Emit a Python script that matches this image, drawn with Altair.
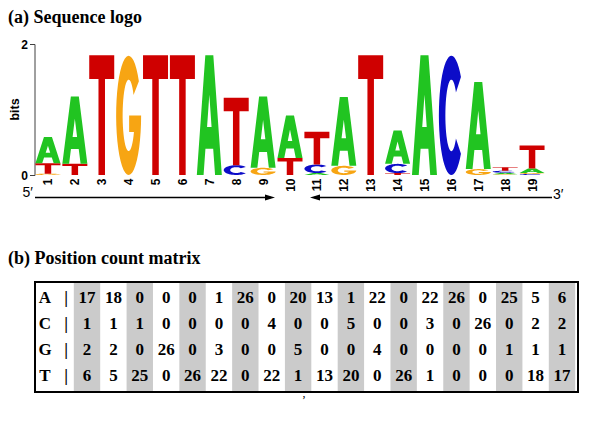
import math
import altair as alt
import pandas as pd

# ---------------- data ----------------
positions = list(range(1, 20))
letters = ["A", "C", "G", "T"]
letter_colors = ["#21c421", "#0c0cc8", "#f7a513", "#cf0000"]

# information content (bits) of each letter
A_bits = [0.40, 1.03, 0, 0, 0, 0, 1.83, 0, 1.09, 0.65, 0.03, 1.05, 0, 0.51, 1.83, 0, 1.33, 0.025, 0.07]
C_bits = [0.0, 0.0, 0, 0, 0, 0, 0, 0.15, 0, 0, 0.13, 0, 0, 0.14, 0, 1.82, 0, 0.03, 0.015]
G_bits = [0.02, 0, 0, 1.82, 0, 0, 0, 0, 0.11, 0, 0, 0.14, 0, 0, 0, 0, 0.09, 0.01, 0.015]
T_bits = [0.16, 0.17, 1.83, 0, 1.83, 1.83, 0, 1.03, 0, 0.26, 0.50, 0, 1.83, 0.03, 0, 0, 0, 0.055, 0.35]

# position count matrix
A_counts = [17, 18, 0, 0, 0, 1, 26, 0, 20, 13, 1, 22, 0, 22, 26, 0, 25, 5, 6]
C_counts = [1, 1, 1, 0, 0, 0, 0, 4, 0, 0, 5, 0, 0, 3, 0, 26, 0, 2, 2]
G_counts = [2, 2, 0, 26, 0, 3, 0, 0, 5, 0, 0, 4, 0, 0, 0, 0, 1, 1, 1]
T_counts = [6, 5, 25, 0, 26, 22, 0, 22, 1, 13, 20, 0, 26, 1, 0, 0, 0, 18, 17]

title_a = "(a) Sequence logo"
title_b = "(b) Position count matrix"
y_title = "bits"
five_prime = "5\u2032"
three_prime = "3\u2032"
bar_sep = "|"
stray_mark = ","

# ---------------- geometry helpers ----------------
PLOT_W, PLOT_H = 511, 131
PX_PER_BIT = PLOT_H / 2.0
LETTER_W = 25.0


def arc(cx, cy, rx, ry, t0, t1, n=40):
    pts = []
    for i in range(n + 1):
        t = math.radians(t0 + (t1 - t0) * i / n)
        pts.append((cx + rx * math.cos(t), cy - ry * math.sin(t)))
    return pts


def signed_area(poly):
    s = 0.0
    for i in range(len(poly)):
        x1, y1 = poly[i]
        x2, y2 = poly[(i + 1) % len(poly)]
        s += x1 * y2 - x2 * y1
    return s / 2.0


def glyph_polys(letter):
    if letter == "T":
        return [[(0, 0), (1, 0), (1, 0.2), (0.63, 0.2), (0.63, 1), (0.37, 1), (0.37, 0.2), (0, 0.2)]]
    if letter == "A":
        outer = [(0, 1), (0.34, 0), (0.66, 0), (1, 1), (0.73, 1), (0.655, 0.78), (0.345, 0.78), (0.27, 1)]
        hole = [(0.41, 0.6), (0.59, 0.6), (0.5, 0.33)]
        if (signed_area(outer) > 0) == (signed_area(hole) > 0):
            hole = hole[::-1]
        return [outer, hole]
    if letter == "C":
        outer = arc(0.5, 0.5, 0.5, 0.5, 40, 320)
        inner = arc(0.5, 0.5, 0.24, 0.3, 320, 40)
        return [outer + inner]
    # G
    tb = 360 - math.degrees(math.asin(0.14 / 0.3))
    outer = arc(0.5, 0.5, 0.5, 0.5, 35, 360)
    xb = 0.5 + 0.24 * math.cos(math.radians(tb))
    bar = [(0.52, 0.5), (0.52, 0.64), (xb, 0.64)]
    inner = arc(0.5, 0.5, 0.24, 0.3, tb, 35)
    return [outer + bar + inner]


def make_path(letter, h_px, w_px=LETTER_W):
    k = h_px / w_px
    parts = []
    for poly in glyph_polys(letter):
        pts = [(2 * u - 1, (2 * v - 1) * k) for (u, v) in poly]
        parts.append("M" + "L".join(f"{x:.4f},{y:.4f}" for x, y in pts) + "Z")
    return "".join(parts)


# ---------------- logo table ----------------
bits_by_letter = {"A": A_bits, "C": C_bits, "G": G_bits, "T": T_bits}
logo_rows = []
for i, p in enumerate(positions):
    vals = {L: bits_by_letter[L][i] for L in letters}
    base = 0.0
    for L in sorted(letters, key=lambda L: vals[L]):
        h = vals[L]
        if h <= 0:
            continue
        logo_rows.append(dict(pos=p, letter=L, yc=base + h / 2.0,
                              path=make_path(L, h * PX_PER_BIT), size=LETTER_W ** 2))
        base += h
logo_df = pd.DataFrame(logo_rows)

counts_by_letter = {"A": A_counts, "C": C_counts, "G": G_counts, "T": T_counts}
table_rows = []
for r, L in enumerate(letters):
    for i, p in enumerate(positions):
        table_rows.append(dict(pos=p, row=r, letter=L, count=counts_by_letter[L][i]))
table_df = pd.DataFrame(table_rows)
rowlab_df = pd.DataFrame({"row": list(range(4)), "letter": letters})
bands_df = pd.DataFrame({"left": [p - 0.5 for p in positions if p % 2 == 1],
                         "right": [p + 0.5 for p in positions if p % 2 == 1]})
one = pd.DataFrame({"k": [0]})

# ---------------- logo chart ----------------
SANS = "Liberation Sans"
SERIF = "Liberation Serif"

logo = alt.Chart(logo_df).mark_point(filled=True, opacity=1, strokeWidth=0).encode(
    x=alt.X("pos:Q",
            scale=alt.Scale(domain=[0.5, 19.5], nice=False, zero=False),
            axis=alt.Axis(values=positions, format="d", labelAngle=270, domain=False,
                          ticks=False, grid=False, labelFont=SANS, labelFontWeight="bold",
                          labelFontSize=12, labelColor="black", labelPadding=3, title=None,
                          labelFlush=False, labelOverlap=False)),
    y=alt.Y("yc:Q",
            scale=alt.Scale(domain=[0, 2], nice=False, zero=True),
            axis=alt.Axis(values=[0, 1, 2], format="d", grid=False, domainColor="#404040",
                          tickColor="#404040", tickSize=5, labelFont=SANS, labelFontSize=12,
                          labelFontWeight="bold", labelColor="black", labelPadding=2,
                          title=None)),
    shape=alt.Shape("path:N", scale=None),
    size=alt.Size("size:Q", scale=None),
    color=alt.Color("letter:N", scale=alt.Scale(domain=letters, range=letter_colors), legend=None),
)

# ---------------- table chart ----------------
tx = alt.Scale(domain=[0.5, 19.5], range=[39.3, 540.7], nice=False, zero=False)
ty = alt.Scale(domain=[0, 3], range=[254, 332], nice=False, zero=False)

bands = alt.Chart(bands_df).mark_rect(color="#cbcbcb").encode(
    x=alt.X("left:Q", scale=tx, axis=None), x2="right:Q",
    y=alt.value(239), y2=alt.value(347))

numbers = alt.Chart(table_df).mark_text(font=SERIF, fontWeight="bold", fontSize=17,
                                        align="center", baseline="middle", color="black").encode(
    x=alt.X("pos:Q", scale=tx, axis=None),
    y=alt.Y("row:Q", scale=ty, axis=None),
    text="count:Q")

row_labels = alt.Chart(rowlab_df).mark_text(font=SERIF, fontWeight="bold", fontSize=17,
                                            align="center", baseline="middle", color="black").encode(
    x=alt.value(10.5), y=alt.Y("row:Q", scale=ty, axis=None), text="letter:N")

seps = alt.Chart(rowlab_df).mark_text(font=SERIF, fontWeight="bold", fontSize=17,
                                      align="center", baseline="middle", color="black").encode(
    x=alt.value(31.5), y=alt.Y("row:Q", scale=ty, axis=None), text=alt.value(bar_sep))

border = alt.Chart(one).mark_rect(fillOpacity=0, stroke="black", strokeWidth=2).encode(
    x=alt.value(0.5), x2=alt.value(543.5), y=alt.value(238), y2=alt.value(348))

table = alt.layer(bands, numbers, row_labels, seps, border)

# ---------------- annotations ----------------
def label(text, x, y, font, size, weight="normal", align="left", baseline="alphabetic", angle=0):
    return alt.Chart(pd.DataFrame({"t": [text]})).mark_text(
        font=font, fontSize=size, fontWeight=weight, align=align, baseline=baseline,
        angle=angle, color="black").encode(x=alt.value(x), y=alt.value(y), text="t:N")

ta = label(title_a, -26.5, -21, SERIF, 18, "bold")
tb = label(title_b, -26.5, 220, SERIF, 18, "bold")
bits_lab = label(y_title, -16, 65.5, SANS, 12.5, "bold", align="center", angle=270)
p5 = label(five_prime, -1.5, 149, SANS, 14, align="right", baseline="middle")
p3 = label(three_prime, 518.5, 151, SANS, 14, align="left", baseline="middle")
comma = label(stray_mark, 268, 353, SERIF, 12)

arrow1 = alt.Chart(one).mark_rule(color="black", strokeWidth=1.5).encode(
    x=alt.value(0.5), x2=alt.value(236), y=alt.value(153.5))
head1 = alt.Chart(one).mark_point(filled=True, opacity=1, color="black", strokeWidth=0).encode(
    x=alt.value(235.5), y=alt.value(153.5),
    shape=alt.value("M-1,-0.6L1,0L-1,0.6Z"), size=alt.value(100))
arrow2 = alt.Chart(one).mark_rule(color="black", strokeWidth=1.5).encode(
    x=alt.value(280), x2=alt.value(517.5), y=alt.value(153.5))
head2 = alt.Chart(one).mark_point(filled=True, opacity=1, color="black", strokeWidth=0).encode(
    x=alt.value(280.5), y=alt.value(153.5),
    shape=alt.value("M1,-0.6L-1,0L1,0.6Z"), size=alt.value(100))

chart = alt.layer(
    logo, table, ta, tb, bits_lab, p5, p3, comma, arrow1, head1, arrow2, head2
).resolve_scale(
    x="independent", y="independent"
).properties(
    width=PLOT_W, height=PLOT_H,
    autosize=alt.AutoSizeParams(type="none"),
    padding={"left": 26.5, "top": 36, "right": 46.5, "bottom": 233},
).configure_view(stroke=None)

chart.save("out.html", embed_options={"renderer": "svg", "actions": False})
